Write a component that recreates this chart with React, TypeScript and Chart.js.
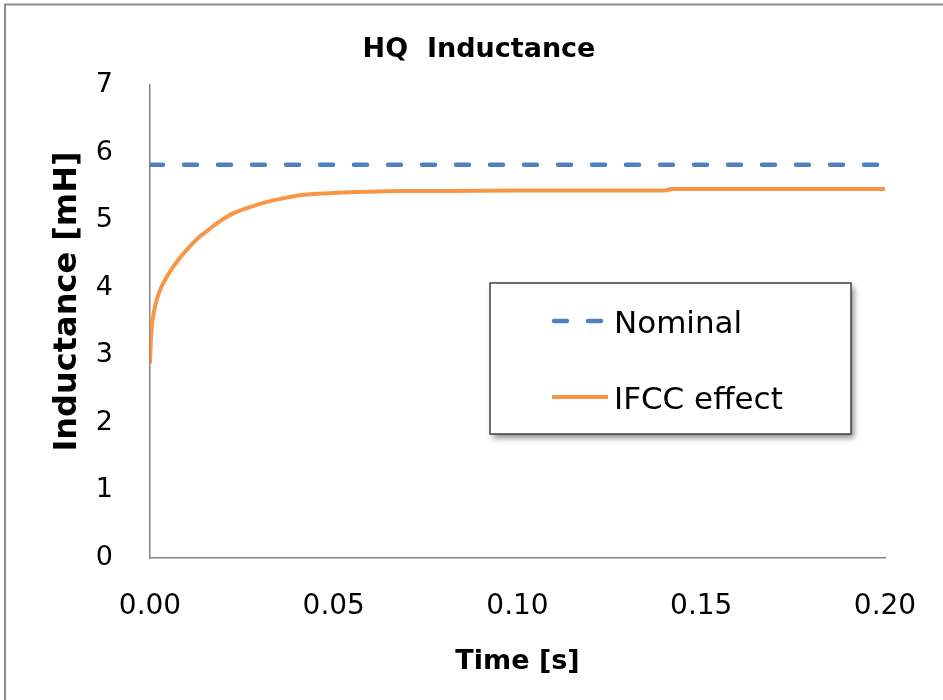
import React, { useEffect, useRef } from "react";
import { Chart, registerables } from "chart.js";

Chart.register(...registerables);

const CHART_TITLE = "HQ  Inductance";
const X_TITLE = "Time [s]";
const Y_TITLE = "Inductance [mH]";

const X_TICKS = [0, 0.05, 0.1, 0.15, 0.2];
const Y_TICKS = [0, 1, 2, 3, 4, 5, 6, 7];

const NOMINAL_LABEL = "Nominal";
const NOMINAL_T = [0, 0.2];
const NOMINAL_L = [5.82, 5.82];

const IFCC_LABEL = "IFCC effect";
const IFCC_T = [
  0, 0.0003, 0.001, 0.002, 0.003, 0.005, 0.007, 0.009, 0.0115, 0.0136, 0.016,
  0.0181, 0.0226, 0.027, 0.0318, 0.036, 0.0408, 0.0498, 0.059, 0.068, 0.08,
  0.1, 0.12, 0.14, 0.142, 0.17, 0.2,
];
const IFCC_L = [
  2.88, 3.3, 3.62, 3.85, 4.0, 4.2, 4.36, 4.5, 4.65, 4.76, 4.86,
  4.95, 5.1, 5.19, 5.27, 5.32, 5.37, 5.4, 5.42, 5.43, 5.43,
  5.44, 5.44, 5.44, 5.46, 5.46, 5.46,
];

const FONT = "'DejaVu Sans', sans-serif";
const BLUE = "#4F81BD";
const ORANGE = "#F79646";
const AXIS = "#868686";

const decorPlugin = {
  id: "decor",
  beforeDraw(chart: any) {
    const ctx = chart.ctx;
    ctx.save();
    ctx.fillStyle = "#ffffff";
    ctx.fillRect(0, 0, chart.width, chart.height);
    ctx.strokeStyle = "#8c8c8c";
    ctx.lineWidth = 2;
    ctx.strokeRect(5, 4.5, chart.width + 20, chart.height + 20);
    ctx.restore();
  },
  afterDraw(chart: any) {
    const ctx = chart.ctx;
    const area = chart.chartArea;
    ctx.save();
    // chart title
    ctx.font = `bold 27px ${FONT}`;
    ctx.fillStyle = "#000";
    ctx.textAlign = "center";
    ctx.textBaseline = "alphabetic";
    ctx.fillText(CHART_TITLE, 479, 57);

    // y axis title
    ctx.save();
    ctx.translate(68, area.top + (area.bottom - area.top) / 2 - 20);
    ctx.rotate(-Math.PI / 2);
    ctx.font = `bold 32px ${FONT}`;
    ctx.textAlign = "center";
    ctx.textBaseline = "middle";
    ctx.fillText(Y_TITLE, 0, 0);
    ctx.restore();

    // legend box
    const bx = 490, by = 283, bw = 361, bh = 151;
    ctx.shadowColor = "rgba(0,0,0,0.45)";
    ctx.shadowBlur = 6;
    ctx.shadowOffsetX = 3;
    ctx.shadowOffsetY = 4;
    ctx.fillStyle = "#fff";
    ctx.fillRect(bx, by, bw, bh);
    ctx.shadowColor = "transparent";
    ctx.shadowBlur = 0;
    ctx.shadowOffsetX = 0;
    ctx.shadowOffsetY = 0;
    ctx.strokeStyle = "#404040";
    ctx.lineWidth = 1.5;
    ctx.strokeRect(bx, by, bw, bh);

    const rows = [321, 397];
    chart.data.datasets.forEach((ds: any, i: number) => {
      const y = rows[i];
      ctx.beginPath();
      ctx.strokeStyle = ds.borderColor;
      ctx.lineWidth = ds.borderWidth;
      ctx.lineCap = ds.borderCapStyle || "butt";
      ctx.setLineDash(ds.borderDash || []);
      if (ds.borderDash && ds.borderDash.length) {
        ctx.moveTo(554, y);
        ctx.lineTo(606, y);
      } else {
        ctx.moveTo(552, y);
        ctx.lineTo(608, y);
      }
      ctx.stroke();
      ctx.setLineDash([]);
      ctx.fillStyle = "#000";
      ctx.font = `31px ${FONT}`;
      ctx.textAlign = "left";
      ctx.textBaseline = "alphabetic";
      ctx.fillText(ds.label, 614, y + 11.5);
    });
    ctx.restore();
  },
};

export default function App() {
  const ref = useRef<HTMLCanvasElement | null>(null);

  useEffect(() => {
    if (!ref.current) return;
    const chart = new Chart(ref.current, {
      type: "line",
      data: {
        datasets: [
          {
            label: NOMINAL_LABEL,
            data: NOMINAL_T.map((t, i) => ({ x: t, y: NOMINAL_L[i] })),
            borderColor: BLUE,
            backgroundColor: BLUE,
            borderWidth: 4.5,
            borderDash: [13, 21],
            borderCapStyle: "round",
            pointRadius: 0,
            fill: false,
          },
          {
            label: IFCC_LABEL,
            data: IFCC_T.map((t, i) => ({ x: t, y: IFCC_L[i] })),
            borderColor: ORANGE,
            backgroundColor: ORANGE,
            borderWidth: 4,
            cubicInterpolationMode: "monotone",
            pointRadius: 0,
            fill: false,
          },
        ],
      },
      options: {
        responsive: false,
        animation: false,
        devicePixelRatio: 1,
        layout: { padding: { top: 85, right: 58, left: 0, bottom: 0 } },
        plugins: {
          legend: { display: false },
          title: { display: false },
          tooltip: { enabled: false },
        },
        scales: {
          x: {
            type: "linear",
            min: 0,
            max: 0.2,
            afterBuildTicks: (s: any) => {
              s.ticks = X_TICKS.map((v) => ({ value: v }));
            },
            afterFit: (s: any) => {
              s.height = 142;
            },
            grid: { display: false, drawTicks: true, tickLength: 32 },
            border: { display: true, color: AXIS, width: 1.5 },
            ticks: {
              padding: 0,
              color: "#000",
              font: { family: FONT, size: 28 },
              callback: (v: any) => Number(v).toFixed(2),
              maxRotation: 0,
            },
            title: {
              display: true,
              text: X_TITLE,
              color: "#000",
              font: { family: FONT, size: 27, weight: "bold" },
              padding: { top: 0, bottom: 22 },
            },
          },
          y: {
            type: "linear",
            min: 0,
            max: 7,
            afterBuildTicks: (s: any) => {
              s.ticks = Y_TICKS.map((v) => ({ value: v }));
            },
            afterFit: (s: any) => {
              s.width = 150;
            },
            grid: { display: false, drawTicks: true, tickLength: 37 },
            border: { display: true, color: AXIS, width: 1.5 },
            ticks: {
              padding: 0,
              color: "#000",
              font: { family: FONT, size: 27 },
              callback: (v: any) => String(v),
            },
            title: { display: false, text: Y_TITLE },
          },
        },
      },
      plugins: [decorPlugin],
    });
    return () => chart.destroy();
  }, []);

  return (
    <div style={{ position: "fixed", left: 0, top: 0, width: 943, height: 700, background: "#fff" }}>
      <canvas ref={ref} width={943} height={700} style={{ width: 943, height: 700, display: "block" }} />
    </div>
  );
}
